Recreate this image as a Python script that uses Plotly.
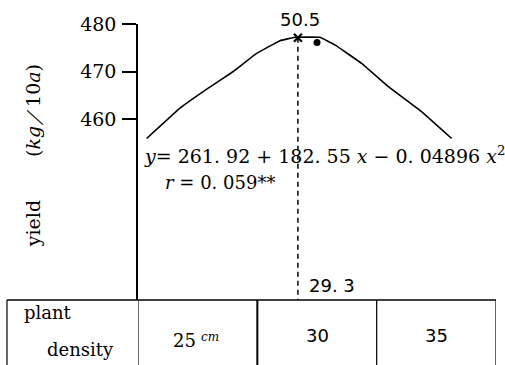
import plotly.graph_objects as go

# ---- data ----
curve_x = [22.86, 24.26, 25.38, 26.49, 27.47, 28.45, 29.08, 30.12, 30.75, 31.87, 32.99, 34.39, 35.64]
curve_y = [455.9, 462.3, 466.3, 470.0, 473.8, 476.5, 477.2, 477.2, 475.6, 471.7, 466.8, 461.5, 455.9]
opt_x = 29.2
opt_y = 477.1
obs_x = [30.0]
obs_y = [476.1]
density_vals = [25, 30, 35]
density_labels = ["25", "30", "35"]
unit_label = "cm"
col_edges = [22.5, 27.5, 32.5, 37.5]
y_ticks = [460, 470, 480]
peak_label = "50.5"
opt_label = "29. 3"

Y_MIN, Y_MAX = 421.9, 480
SERIF = "DejaVu Serif"
SANS = "DejaVu Sans"

fig = go.Figure()

fig.add_trace(go.Scatter(x=curve_x, y=curve_y, mode="lines",
                         line=dict(color="black", width=1.6, shape="spline", smoothing=0.2),
                         cliponaxis=False, showlegend=False, hoverinfo="skip"))
fig.add_trace(go.Scatter(x=[opt_x, opt_x], y=[opt_y, Y_MIN], mode="lines",
                         line=dict(color="black", width=1.5, dash="5px,4px"),
                         cliponaxis=False, showlegend=False, hoverinfo="skip"))
fig.add_trace(go.Scatter(x=[opt_x], y=[opt_y], mode="markers",
                         marker=dict(symbol="x-thin", size=8, line=dict(color="black", width=2.2)),
                         cliponaxis=False, showlegend=False, hoverinfo="skip"))
fig.add_trace(go.Scatter(x=obs_x, y=obs_y, mode="markers",
                         marker=dict(symbol="circle", size=7, color="black"),
                         cliponaxis=False, showlegend=False, hoverinfo="skip"))

shapes = []
LEFT = -0.366
BOT = -0.30
shapes.append(dict(type="line", xref="paper", yref="paper", x0=LEFT, x1=1.0, y0=0, y1=0,
                   line=dict(color="black", width=1.5)))
shapes.append(dict(type="line", xref="paper", yref="paper", x0=LEFT, x1=LEFT, y0=0, y1=BOT,
                   line=dict(color="black", width=1.2)))
for i, e in enumerate(col_edges):
    shapes.append(dict(type="line", xref="x", yref="paper", x0=e, x1=e, y0=0, y1=BOT,
                       line=dict(color="black", width=2.0 if i == 1 else 1.2)))

ann = []
for v, lab in zip(density_vals, density_labels):
    if v == 25:
        ann.append(dict(x=v, y=-0.145, xref="x", yref="paper", text=lab, showarrow=False,
                        xshift=0, font=dict(family=SERIF, size=18, color="black"),
                        xanchor="right", yanchor="middle"))
        ann.append(dict(x=v, y=-0.135, xref="x", yref="paper", text="<i>" + unit_label + "</i>",
                        showarrow=False, xshift=1, font=dict(family=SERIF, size=12, color="black"),
                        xanchor="left", yanchor="middle"))
    else:
        ann.append(dict(x=v, y=-0.13, xref="x", yref="paper", text=lab, showarrow=False,
                        font=dict(family=SANS, size=18, color="black"),
                        xanchor="center", yanchor="middle"))
ann.append(dict(x=-0.324, y=-0.047, xref="paper", yref="paper", text="plant", showarrow=False,
                font=dict(family=SERIF, size=18, color="black"), xanchor="left", yanchor="middle"))
ann.append(dict(x=-0.26, y=-0.181, xref="paper", yref="paper", text="density", showarrow=False,
                font=dict(family=SERIF, size=18, color="black"), xanchor="left", yanchor="middle"))
ann.append(dict(x=opt_x, y=1.0145, xref="x", yref="paper", text=peak_label, showarrow=False,
                xshift=2, font=dict(family=SANS, size=18, color="black"),
                xanchor="center", yanchor="middle"))
ann.append(dict(x=opt_x, y=0.054, xref="x", yref="paper", text=opt_label, showarrow=False, xshift=9,
                font=dict(family=SANS, size=18, color="black"), xanchor="left", yanchor="middle"))
ann.append(dict(x=0.011, y=0.525, xref="paper", yref="paper",
                text="<i>y</i>= 261. 92 + 182. 55 <i>x</i> − 0. 04896 <i>x</i><sup>2</sup>",
                showarrow=False, font=dict(family=SERIF, size=19, color="black"),
                xanchor="left", yanchor="middle"))
ann.append(dict(x=0.07, y=0.424, xref="paper", yref="paper", text="<i>r</i> = 0. 059**",
                showarrow=False, font=dict(family=SERIF, size=18, color="black"),
                xanchor="left", yanchor="middle"))
ann.append(dict(x=-0.293, y=0.275, xref="paper", yref="paper", text="yield", textangle=-90,
                showarrow=False, font=dict(family=SERIF, size=19, color="black"),
                xanchor="center", yanchor="middle"))
ann.append(dict(x=-0.293, y=0.685, xref="paper", yref="paper", text="(<i>kg</i>／10<i>a</i>)",
                textangle=-90, showarrow=False, font=dict(family=SERIF, size=19, color="black"),
                xanchor="center", yanchor="middle"))

fig.update_layout(
    width=505, height=365, autosize=False,
    margin=dict(l=138, r=9, t=24, b=65),
    paper_bgcolor="white", plot_bgcolor="white",
    showlegend=False,
    shapes=shapes, annotations=ann,
    xaxis=dict(range=[22.5, 37.5], showgrid=False, zeroline=False, showline=False,
               showticklabels=False, ticks=""),
    yaxis=dict(range=[Y_MIN, Y_MAX], showgrid=False, zeroline=False, showline=True,
               linecolor="black", linewidth=1.6, tickvals=y_ticks, ticks="outside",
               ticklen=14, tickwidth=1.5, tickcolor="black", ticklabelstandoff=2,
               tickfont=dict(family=SERIF, size=19, color="black")),
)

fig.write_html("out.html", config={"displayModeBar": False},
               post_script="document.body.style.margin='0px';document.body.style.overflow='hidden';")
